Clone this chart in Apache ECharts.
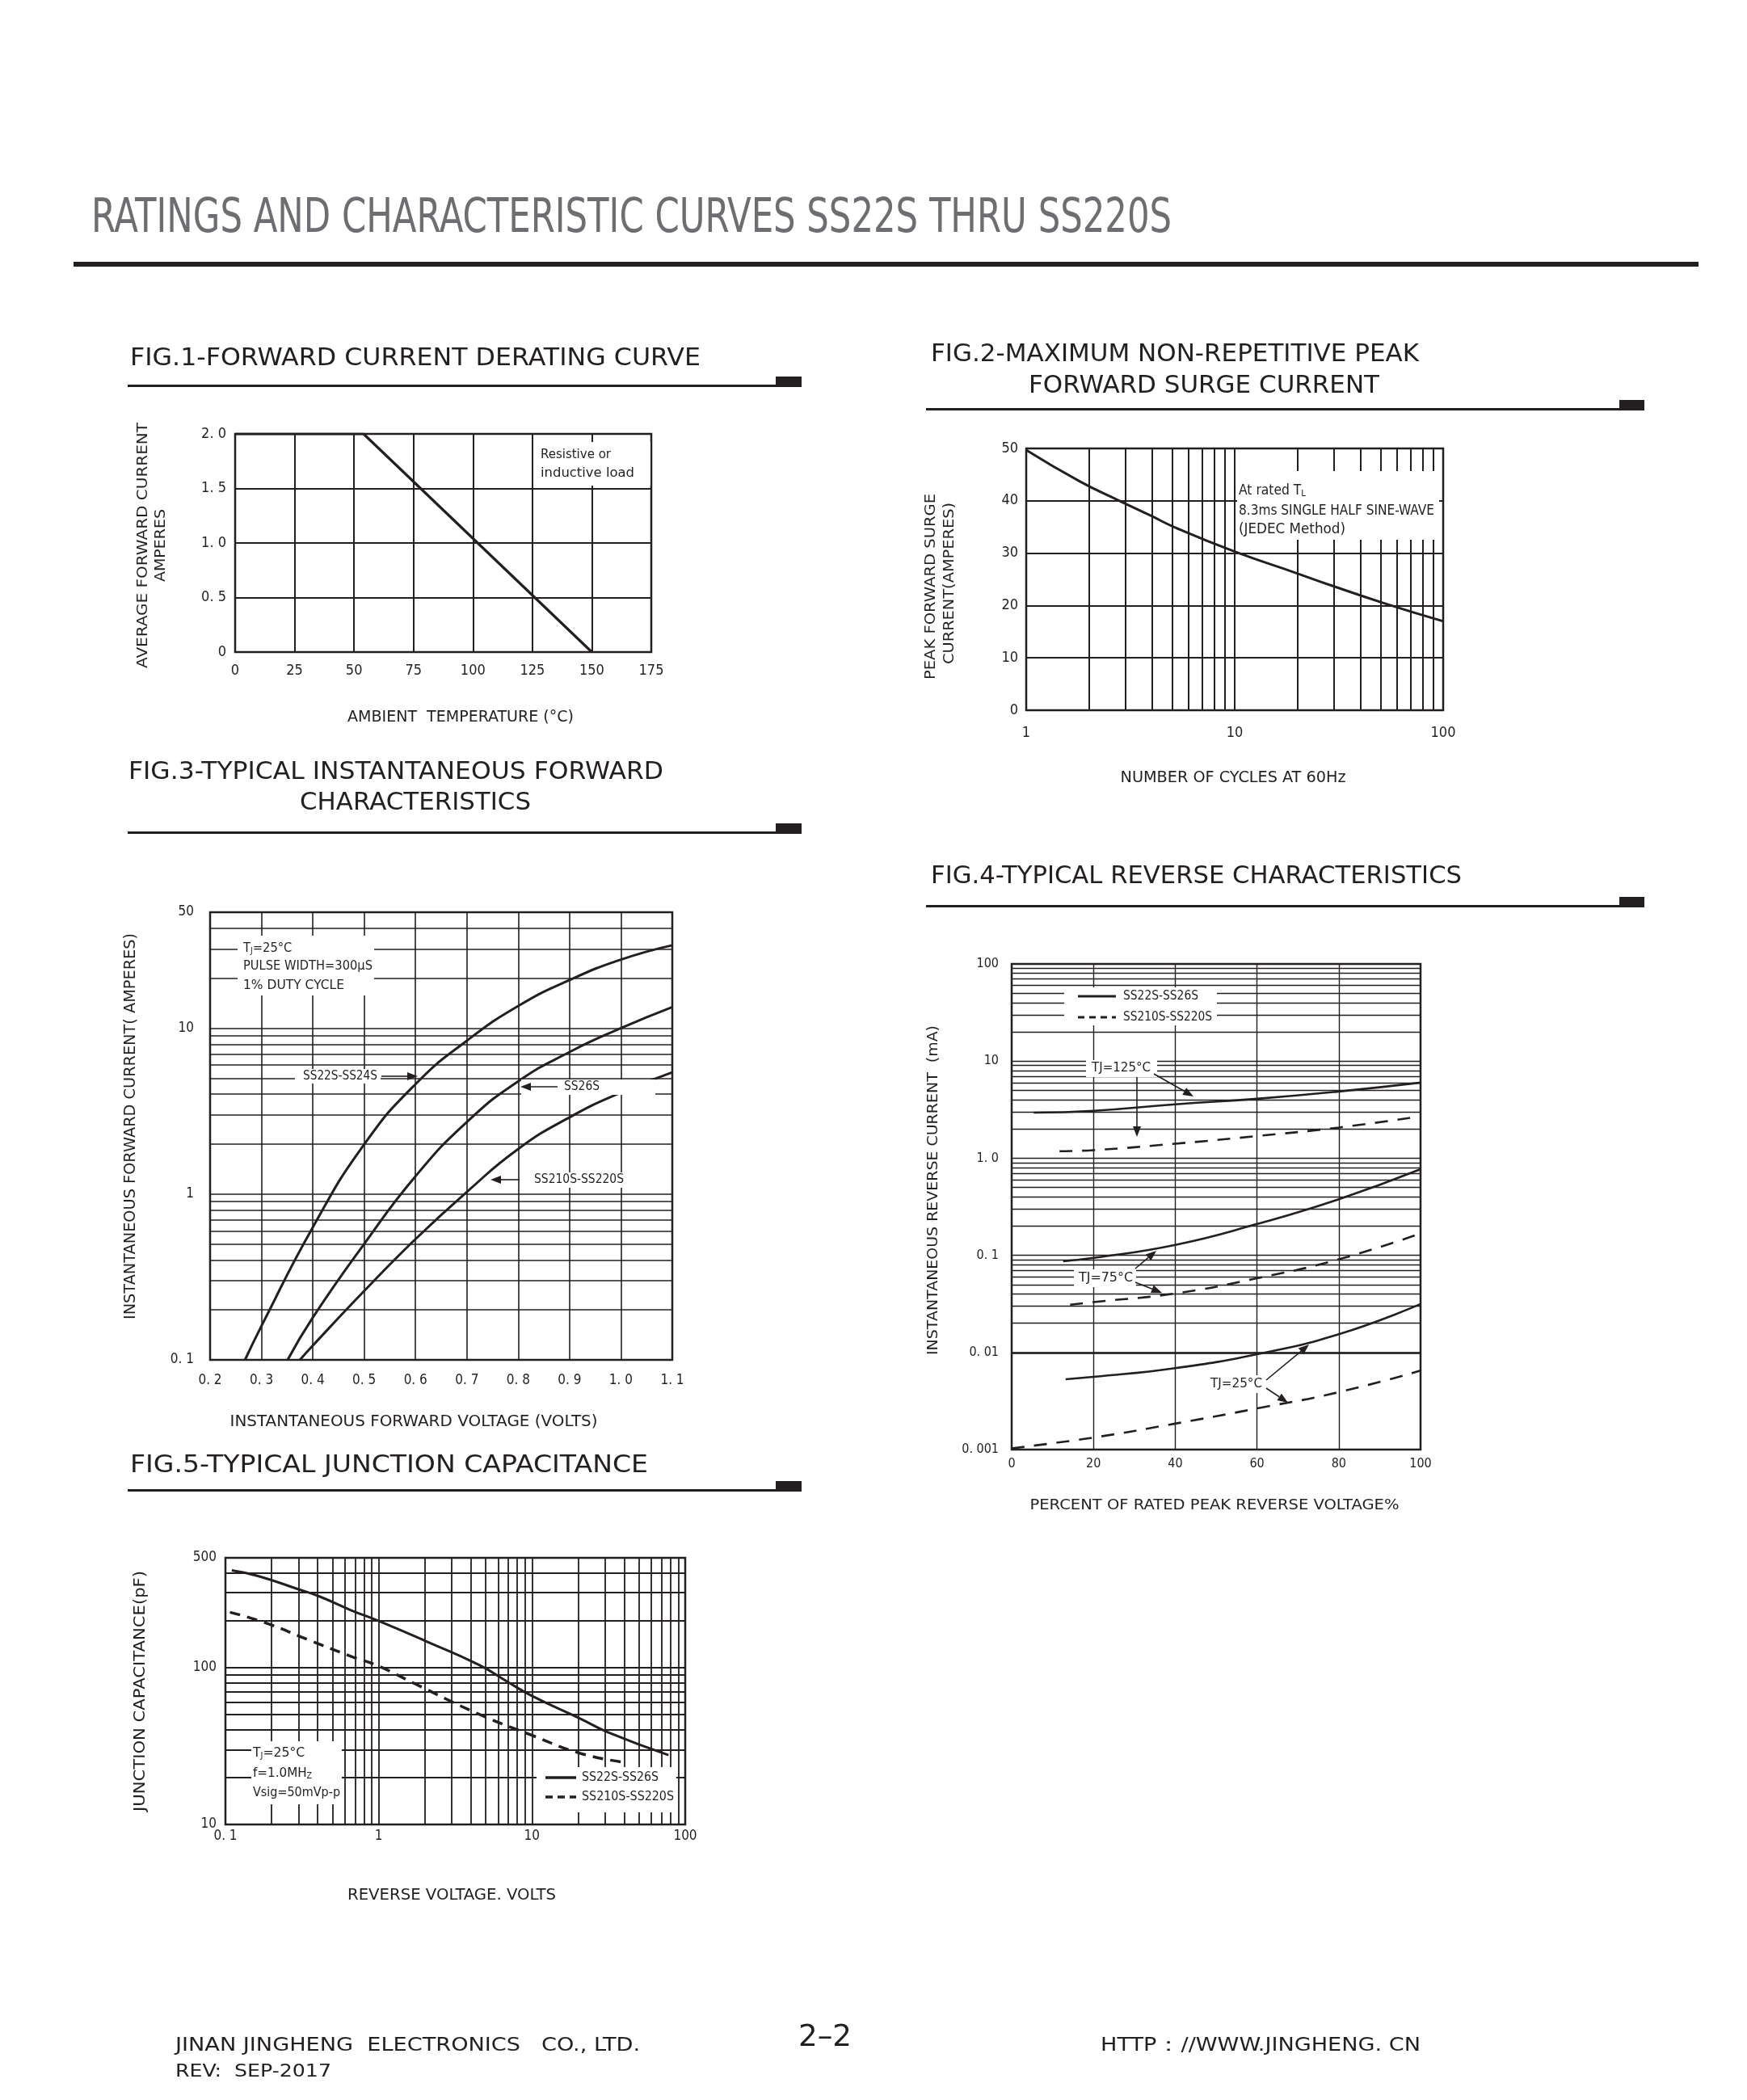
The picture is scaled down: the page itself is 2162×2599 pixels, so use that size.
<!DOCTYPE html>
<html><head><meta charset="utf-8">
<script src="https://cdn.jsdelivr.net/npm/echarts@6/dist/echarts.min.js"></script>
<style>html,body{margin:0;padding:0;background:#fff}#c{width:2162px;height:2599px}</style>
</head><body><div id="c"></div>
<script>
// ---------------- DATA ----------------
// Fig.1 forward current derating
const fig1Temp = [0, 54, 150];
const fig1Current = [2.0, 2.0, 0];
const fig1XTickVals = [0, 25, 50, 75, 100, 125, 150, 175];
const fig1XTickLabels = ['0', '25', '50', '75', '100', '125', '150', '175'];
const fig1YTickVals = [0, 0.5, 1, 1.5, 2];
const fig1YTickLabels = ['0', '0. 5', '1. 0', '1. 5', '2. 0'];
const fig1GridX = [25, 50, 75, 100, 125, 150];
const fig1GridY = [0.5, 1.0, 1.5];

// Fig.2 surge current
const fig2Cycles = [1, 1.81, 2.8, 3.94, 5.18, 10, 19.4, 29.2, 52.5, 100];
const fig2Surge = [49.7, 43.7, 40.0, 37.2, 34.9, 30.3, 26.3, 23.8, 20.4, 17.0];
const fig2XTickVals = [1, 10, 100];
const fig2XTickLabels = ['1', '10', '100'];
const fig2YTickVals = [0, 10, 20, 30, 40, 50];
const fig2YTickLabels = ['0', '10', '20', '30', '40', '50'];
const fig2GridX = [2, 3, 4, 5, 6, 7, 8, 9, 10, 20, 30, 40, 50, 60, 70, 80, 90];
const fig2GridY = [10, 20, 30, 40];

// Fig.3 forward characteristics
const fig3VoltsA = [0.268, 0.3, 0.4, 0.5, 0.6, 0.7, 0.8, 0.9, 1.0, 1.1];
const fig3AmpsA = [0.1, 0.16, 0.63, 1.99, 4.6, 8.4, 13.6, 19.5, 25.9, 31.6];
const fig3VoltsB = [0.351, 0.4, 0.5, 0.6, 0.7, 0.8, 0.9, 1.0, 1.1];
const fig3AmpsB = [0.1, 0.18, 0.50, 1.28, 2.72, 4.78, 7.18, 10.0, 13.4];
const fig3VoltsC = [0.375, 0.4, 0.5, 0.6, 0.7, 0.8, 0.9, 1.0, 1.1];
const fig3AmpsC = [0.1, 0.122, 0.26, 0.535, 1.03, 1.87, 2.9, 4.09, 5.42];
const fig3XTickVals = [0.2, 0.3, 0.4, 0.5, 0.6, 0.7, 0.8, 0.9, 1.0, 1.1];
const fig3XTickLabels = ['0. 2', '0. 3', '0. 4', '0. 5', '0. 6', '0. 7', '0. 8', '0. 9', '1. 0', '1. 1'];
const fig3YTickVals = [0.1, 1, 10, 50];
const fig3YTickLabels = ['0. 1', '1', '10', '50'];
const fig3GridX = [0.3, 0.4, 0.5, 0.6, 0.7, 0.8, 0.9, 1.0];
const fig3GridY = [0.2, 0.3, 0.4, 0.5, 0.6, 0.7, 0.8, 0.9, 1, 2, 3, 4, 5, 6, 7, 8, 9, 10, 20, 30, 40];

// Fig.4 reverse characteristics
const fig4PctS125 = [5.4, 20, 40, 60, 80, 100];
const fig4CurS125 = [2.95, 3.08, 3.59, 4.09, 4.86, 6.0];
const fig4PctD125 = [11.7, 20, 40, 60, 80, 100];
const fig4CurD125 = [1.18, 1.21, 1.41, 1.69, 2.07, 2.7];
const fig4PctS75 = [12.6, 20, 40, 60, 80, 100];
const fig4CurS75 = [0.087, 0.094, 0.128, 0.21, 0.378, 0.77];
const fig4PctD75 = [14.3, 20, 40, 60, 80, 100];
const fig4CurD75 = [0.031, 0.033, 0.0405, 0.058, 0.091, 0.168];
const fig4PctS25 = [13.2, 20, 40, 60, 80, 100];
const fig4CurS25 = [0.0053, 0.0056, 0.0069, 0.0096, 0.0154, 0.0315];
const fig4PctD25 = [0, 20, 40, 60, 80, 100];
const fig4CurD25 = [0.00103, 0.00133, 0.00185, 0.00265, 0.0039, 0.0065];
const fig4XTickVals = [0, 20, 40, 60, 80, 100];
const fig4XTickLabels = ['0', '20', '40', '60', '80', '100'];
const fig4YTickVals = [0.001, 0.01, 0.1, 1, 10, 100];
const fig4YTickLabels = ['0. 001', '0. 01', '0. 1', '1. 0', '10', '100'];
const fig4GridX = [20, 40, 60, 80];
const fig4GridY = [0.002, 0.003, 0.004, 0.005, 0.006, 0.007, 0.008, 0.009, 0.01,
  0.02, 0.03, 0.04, 0.05, 0.06, 0.07, 0.08, 0.09, 0.1,
  0.2, 0.3, 0.4, 0.5, 0.6, 0.7, 0.8, 0.9, 1,
  2, 3, 4, 5, 6, 7, 8, 9, 10,
  20, 30, 40, 50, 60, 70, 80, 90];

// Fig.5 junction capacitance
const fig5VoltsS = [0.11, 0.163, 0.30, 0.413, 0.658, 1, 2.07, 4.5, 6.8, 10, 20.7, 31.3, 77.8];
const fig5CapS = [416, 383, 315, 283, 232, 198, 146, 104, 82, 65.9, 47.2, 38.7, 27.7];
const fig5VoltsD = [0.107, 0.179, 0.343, 0.658, 1, 1.73, 4.5, 10, 20.7, 41];
const fig5CapD = [225, 194, 151, 118, 102, 78.7, 50.5, 37, 28.4, 24.8];
const fig5XTickVals = [0.1, 1, 10, 100];
const fig5XTickLabels = ['0. 1', '1', '10', '100'];
const fig5YTickVals = [10, 100, 500];
const fig5YTickLabels = ['10', '100', '500'];
const fig5GridX = [0.2, 0.3, 0.4, 0.5, 0.6, 0.7, 0.8, 0.9, 1, 2, 3, 4, 5, 6, 7, 8, 9, 10, 20, 30, 40, 50, 60, 70, 80, 90];
const fig5GridY = [20, 30, 40, 50, 60, 70, 80, 90, 100, 200, 300, 400];

// ---------------- HELPERS ----------------
const CF = '"Liberation Sans Narrow","DejaVu Sans Condensed","Liberation Sans",Arial,sans-serif';
const WF = '"DejaVu Sans","Noto Sans",sans-serif';
const INK = '#231f20';
const mctx = document.createElement('canvas').getContext('2d');

function txt(text, x, y, o) {
  o = o || {};
  const size = o.size || 16, fam = o.family || WF;
  mctx.font = size + 'px ' + fam;
  const w = mctx.measureText(o.plain || text).width;
  const sx = o.width ? o.width / w : 1;
  const el = {type: 'text', x: x, y: y, z: 12, rotation: o.rot || 0, scaleX: sx, silent: true,
    style: {text: text, fontSize: size, fontFamily: fam, fill: o.color || INK,
      align: o.align || 'left', verticalAlign: 'middle'}};
  if (o.sub) {
    el.style.rich = {s: {fontSize: Math.round(size * 0.62), fontFamily: fam, fill: o.color || INK, verticalAlign: 'bottom'}};
  }
  return el;
}
function box(x, y, w, h, fill) {
  return {type: 'rect', z: 10, silent: true, shape: {x: x, y: y, width: w, height: h}, style: {fill: fill || '#fff'}};
}
function seg(x1, y1, x2, y2, w, dash) {
  const s = {stroke: INK, lineWidth: w || 2};
  if (dash) s.lineDash = dash;
  return {type: 'line', z: 12, silent: true, shape: {x1: x1, y1: y1, x2: x2, y2: y2}, style: s};
}
function arrow(x1, y1, x2, y2) {
  const a = Math.atan2(y2 - y1, x2 - x1), L = 13, W = 5;
  const bx = x2 - L * Math.cos(a), by = y2 - L * Math.sin(a);
  const px = -Math.sin(a) * W, py = Math.cos(a) * W;
  return [
    {type: 'line', z: 13, silent: true, shape: {x1: x1, y1: y1, x2: bx, y2: by}, style: {stroke: INK, lineWidth: 1.6}},
    {type: 'polygon', z: 13, silent: true, shape: {points: [[x2, y2], [bx + px, by + py], [bx - px, by - py]]}, style: {fill: INK}}
  ];
}
function lookup(vals, labels) {
  return function (v) {
    for (let i = 0; i < vals.length; i++) {
      if (Math.abs(v - vals[i]) <= Math.abs(vals[i]) * 1e-4 + 1e-9) return labels[i];
    }
    return '';
  };
}
function axis(gi, type, min, max, interval, vals, labels, margin, size) {
  const a = {gridIndex: gi, type: type, min: min, max: max,
    axisLine: {show: false}, axisTick: {show: false}, splitLine: {show: false},
    minorTick: {show: false}, minorSplitLine: {show: false},
    axisLabel: {show: true, margin: margin, fontSize: size, fontFamily: CF, color: INK,
      formatter: lookup(vals, labels), showMinLabel: true, showMaxLabel: true, interval: 0, hideOverlap: false}};
  if (type === 'log') a.logBase = 10;
  if (interval) a.interval = interval;
  return a;
}
function gridLines(gi, xs, ys, w) {
  return {type: 'line', xAxisIndex: gi, yAxisIndex: gi, data: [], z: 2, silent: true, showSymbol: false,
    markLine: {silent: true, symbol: ['none', 'none'], label: {show: false}, animation: false,
      lineStyle: {color: INK, width: w, type: 'solid'}, emphasis: {disabled: true},
      data: xs.map(v => ({xAxis: v})).concat(ys.map(v => ({yAxis: v})))}};
}
function curve(gi, xs, ys, o) {
  o = o || {};
  return {type: 'line', xAxisIndex: gi, yAxisIndex: gi, z: 8, silent: true,
    data: xs.map((x, i) => [x, ys[i]]), symbol: 'none', showSymbol: false,
    smooth: o.smooth || false,
    lineStyle: {color: INK, width: o.width || 3, type: o.dash || 'solid', cap: 'butt'}};
}

// ---------------- GRAPHICS (page text, rules, notes) ----------------
const g = [];
g.push(txt('RATINGS AND CHARACTERISTIC CURVES SS22S THRU SS220S', 113, 272, {size: 58, family: CF, width: 1337, color: '#6d6e71'}));
g.push(box(91, 324, 2011, 6, INK));
function rule(x1, x2, y, tabX2) {
  g.push(box(x1, y, x2 - x1, 3, INK));
  g.push(box(x2 - 2, y - 10, tabX2 - x2 + 2, 13, INK));
}
g.push(txt('FIG.1-FORWARD CURRENT DERATING CURVE', 161, 444, {size: 30, width: 706}));
rule(158, 962, 476, 992);
g.push(txt('FIG.2-MAXIMUM NON-REPETITIVE PEAK', 1152, 439, {size: 30, width: 604}));
g.push(txt('FORWARD SURGE CURRENT', 1273, 478, {size: 30, width: 434}));
rule(1146, 2006, 505, 2035);
g.push(txt('FIG.3-TYPICAL INSTANTANEOUS FORWARD', 159, 956, {size: 30, width: 662}));
g.push(txt('CHARACTERISTICS', 371, 994, {size: 30, width: 286}));
rule(158, 962, 1029, 992);
g.push(txt('FIG.4-TYPICAL REVERSE CHARACTERISTICS', 1152, 1085, {size: 30, width: 657}));
rule(1146, 2006, 1120, 2035);
g.push(txt('FIG.5-TYPICAL JUNCTION CAPACITANCE', 161, 1814, {size: 30, width: 641}));
rule(158, 962, 1843, 992);

// axis names
const R = Math.PI / 2;
g.push(txt('AVERAGE FORWARD CURRENT', 177, 675, {size: 18, width: 304, rot: R, align: 'center'}));
g.push(txt('AMPERES', 199, 675, {size: 18, width: 90, rot: R, align: 'center'}));
g.push(txt('AMBIENT  TEMPERATURE (°C)', 570, 888, {size: 19, family: CF, width: 280, align: 'center'}));
g.push(txt('PEAK FORWARD SURGE', 1152, 726, {size: 18, width: 230, rot: R, align: 'center'}));
g.push(txt('CURRENT(AMPERES)', 1175, 722, {size: 18, width: 200, rot: R, align: 'center'}));
g.push(txt('NUMBER OF CYCLES AT 60Hz', 1526, 963, {size: 19, family: CF, width: 279, align: 'center'}));
g.push(txt('INSTANTANEOUS FORWARD CURRENT( AMPERES)', 162, 1394, {size: 19, width: 478, rot: R, align: 'center'}));
g.push(txt('INSTANTANEOUS FORWARD VOLTAGE (VOLTS)', 512, 1760, {size: 19, width: 455, align: 'center'}));
g.push(txt('INSTANTANEOUS REVERSE CURRENT  (mA)', 1155, 1473, {size: 18, width: 408, rot: R, align: 'center'}));
g.push(txt('PERCENT OF RATED PEAK REVERSE VOLTAGE%', 1503, 1863, {size: 18, width: 457, align: 'center'}));
g.push(txt('JUNCTION CAPACITANCE(pF)', 174, 2093, {size: 19, width: 298, rot: R, align: 'center'}));
g.push(txt('REVERSE VOLTAGE. VOLTS', 559, 2346, {size: 19, family: CF, width: 258, align: 'center'}));

// Fig.1 note
g.push(box(660, 547, 145, 54));
g.push(txt('Resistive or', 669, 563, {size: 16, family: CF, width: 87}));
g.push(txt('inductive load', 669, 586, {size: 16, family: CF, width: 116}));

// Fig.2 note
g.push(box(1531, 583, 250, 85));
g.push(txt('At rated T{s|L}', 1533, 608, {size: 17, family: CF, width: 86, plain: 'At rated TL', sub: true}));
g.push(txt('8.3ms SINGLE HALF SINE-WAVE', 1533, 633, {size: 17, family: CF, width: 242}));
g.push(txt('(JEDEC Method)', 1533, 656, {size: 17, family: CF, width: 132}));

// Fig.3 notes
g.push(box(294, 1158, 169, 74));
g.push(txt('T{s|J}=25°C', 301, 1174, {size: 16, width: 62, plain: 'TJ=25°C', sub: true}));
g.push(txt('PULSE WIDTH=300µS', 301, 1196, {size: 16, width: 160}));
g.push(txt('1% DUTY CYCLE', 301, 1220, {size: 16, width: 125}));
g.push(box(365, 1323, 106, 18));
g.push(txt('SS22S-SS24S', 375, 1332, {size: 15, family: CF, width: 92}));
g.push.apply(g, arrow(472, 1332, 517, 1332));
g.push(box(645, 1336, 166, 19));
g.push(txt('SS26S', 698, 1345, {size: 15, family: CF, width: 44}));
g.push.apply(g, arrow(690, 1345, 644, 1345));
g.push(box(654, 1451, 124, 19));
g.push(txt('SS210S-SS220S', 661, 1460, {size: 15, family: CF, width: 111}));
g.push.apply(g, arrow(643, 1460, 607, 1460));

// Fig.4 legend + notes
g.push(box(1317, 1222, 189, 47));
g.push(seg(1334, 1233, 1381, 1233, 3));
g.push(txt('SS22S-SS26S', 1390, 1233, {size: 15, family: CF, width: 93}));
g.push(seg(1334, 1259, 1381, 1259, 3, [8, 6]));
g.push(txt('SS210S-SS220S', 1390, 1259, {size: 15, family: CF, width: 110}));
g.push(box(1344, 1312, 88, 21));
g.push(txt('TJ=125°C', 1351, 1322, {size: 16, family: CF, width: 73}));
g.push.apply(g, arrow(1428, 1329, 1477, 1357));
g.push.apply(g, arrow(1407, 1333, 1407, 1407));
g.push(box(1329, 1571, 77, 22));
g.push(txt('TJ=75°C', 1335, 1582, {size: 16, family: CF, width: 67}));
g.push.apply(g, arrow(1405, 1570, 1431, 1548));
g.push.apply(g, arrow(1405, 1587, 1438, 1600));
g.push(box(1492, 1702, 75, 22));
g.push(txt('TJ=25°C', 1498, 1713, {size: 16, family: CF, width: 64}));
g.push.apply(g, arrow(1567, 1708, 1620, 1664));
g.push.apply(g, arrow(1567, 1718, 1594, 1736));

// Fig.5 notes + legend
g.push(box(311, 2155, 112, 78));
g.push(txt('T{s|J}=25°C', 313, 2170, {size: 16, family: CF, width: 66, plain: 'TJ=25°C', sub: true}));
g.push(txt('f=1.0MH{s|Z}', 313, 2195, {size: 16, family: CF, width: 77, plain: 'f=1.0MHZ', sub: true}));
g.push(txt('Vsig=50mVp-p', 313, 2219, {size: 16, family: CF, width: 108}));
g.push(box(664, 2187, 173, 56));
g.push(seg(675, 2200, 713, 2200, 3.5));
g.push(txt('SS22S-SS26S', 720, 2200, {size: 16, family: CF, width: 95}));
g.push(seg(675, 2224, 713, 2224, 3.5, [9, 6]));
g.push(txt('SS210S-SS220S', 720, 2224, {size: 16, family: CF, width: 114}));

// footer
g.push(txt('JINAN JINGHENG  ELECTRONICS   CO., LTD.', 217, 2532, {size: 23, family: CF, width: 575}));
g.push(txt('REV:  SEP-2017', 217, 2564, {size: 22, family: CF, width: 193}));
g.push(txt('2–2', 988, 2522, {size: 38, family: CF, width: 66}));
g.push(txt('HTTP：//WWW.JINGHENG. CN', 1362, 2532, {size: 23, family: CF, width: 396}));

// ---------------- CHART ----------------
const gridBase = {show: true, borderColor: INK, borderWidth: 2.5, backgroundColor: 'transparent', containLabel: false, outerBoundsMode: 'none'};
const option = {
  animation: false,
  backgroundColor: '#ffffff',
  grid: [
    Object.assign({left: 291, top: 537, width: 515, height: 270}, gridBase),
    Object.assign({left: 1270, top: 555, width: 516, height: 324}, gridBase),
    Object.assign({left: 260, top: 1129, width: 572, height: 554}, gridBase),
    Object.assign({left: 1252, top: 1193, width: 506, height: 601}, gridBase),
    Object.assign({left: 279, top: 1928, width: 569, height: 330}, gridBase)
  ],
  xAxis: [
    axis(0, 'value', 0, 175, 25, fig1XTickVals, fig1XTickLabels, 14, 18),
    axis(1, 'log', 1, 100, null, fig2XTickVals, fig2XTickLabels, 19, 18),
    axis(2, 'value', 0.2, 1.1, 0.1, fig3XTickVals, fig3XTickLabels, 17, 17),
    axis(3, 'value', 0, 100, 20, fig4XTickVals, fig4XTickLabels, 10, 16),
    axis(4, 'log', 0.1, 100, null, fig5XTickVals, fig5XTickLabels, 6, 17)
  ],
  yAxis: [
    axis(0, 'value', 0, 2, 0.5, fig1YTickVals, fig1YTickLabels, 11, 18),
    axis(1, 'value', 0, 50, 10, fig2YTickVals, fig2YTickLabels, 10, 18),
    axis(2, 'log', 0.1, 50, null, fig3YTickVals, fig3YTickLabels, 20, 17),
    axis(3, 'log', 0.001, 100, null, fig4YTickVals, fig4YTickLabels, 16, 16),
    axis(4, 'log', 10, 500, null, fig5YTickVals, fig5YTickLabels, 11, 17)
  ],
  series: [
    gridLines(0, fig1GridX, fig1GridY, 2),
    gridLines(1, fig2GridX, fig2GridY, 2),
    gridLines(2, fig3GridX, fig3GridY, 1.6),
    gridLines(3, fig4GridX, fig4GridY, 1.4),
    gridLines(4, fig5GridX, fig5GridY, 1.8),
    curve(0, fig1Temp, fig1Current, {width: 3.2}),
    curve(1, fig2Cycles, fig2Surge, {smooth: 0.5, width: 3}),
    curve(2, fig3VoltsA, fig3AmpsA, {smooth: 0.5, width: 3}),
    curve(2, fig3VoltsB, fig3AmpsB, {smooth: 0.5, width: 3}),
    curve(2, fig3VoltsC, fig3AmpsC, {smooth: 0.5, width: 3}),
    curve(3, fig4PctS125, fig4CurS125, {smooth: 0.5, width: 2.6}),
    curve(3, fig4PctD125, fig4CurD125, {smooth: 0.5, width: 2.6, dash: [16, 12]}),
    curve(3, fig4PctS75, fig4CurS75, {smooth: 0.5, width: 2.6}),
    curve(3, fig4PctD75, fig4CurD75, {smooth: 0.5, width: 2.6, dash: [16, 12]}),
    curve(3, fig4PctS25, fig4CurS25, {smooth: 0.5, width: 2.6}),
    curve(3, fig4PctD25, fig4CurD25, {smooth: 0.5, width: 2.6, dash: [16, 12]}),
    curve(4, fig5VoltsS, fig5CapS, {smooth: 0.5, width: 3}),
    curve(4, fig5VoltsD, fig5CapD, {smooth: 0.5, width: 3.5, dash: [13, 9]})
  ],
  graphic: {elements: g}
};
const chart = echarts.init(document.getElementById('c'), null, {renderer: 'canvas'});
chart.setOption(option);
</script></body></html>
